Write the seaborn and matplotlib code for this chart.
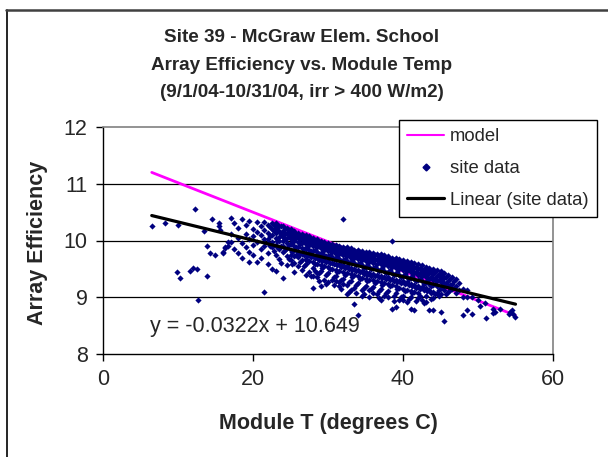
import matplotlib
matplotlib.use("Agg")
import matplotlib.pyplot as plt
import seaborn as sns
import pandas as pd
from matplotlib.lines import Line2D

sns.set_style("white")
plt.rcParams['font.family'] = ['Liberation Sans', 'DejaVu Sans']

# ---- data ----
title_lines = ["Site 39 - McGraw Elem. School",
               "Array Efficiency vs. Module Temp",
               "(9/1/04-10/31/04, irr > 400 W/m2)"]
x_label = "Module T (degrees C)"
y_label = "Array Efficiency"
x_ticks = [0, 20, 40, 60]
y_ticks = [8, 9, 10, 11, 12]
equation = "y = -0.0322x + 10.649"
legend_labels = ["model", "site data", "Linear (site data)"]

# model line endpoints (T, efficiency)
model_T = [6.5, 55.0]
model_E = [11.20, 8.68]
# linear trend of site data
fit_slope = -0.0322
fit_intercept = 10.649
fit_T = [6.5, 55.0]

# site data, grouped by module temperature column (main columns)
col_T = [6.5, 8.3, 9.8, 10.0, 10.3, 11.6, 12.0, 12.3, 12.5, 12.7, 13.4, 13.8,
         14.3, 14.5, 14.9, 15.4, 15.6, 16.0, 16.3, 16.7,
         17.0, 17.5, 18.0, 18.5, 19.0, 19.5, 20.0, 20.5, 21.0, 21.5, 22.0, 22.5,
         23.0, 23.5, 24.0, 24.5, 25.0, 25.5, 26.0, 26.5, 27.0, 27.5, 28.0, 28.5,
         29.0, 29.5, 30.0, 30.5, 31.0, 31.5, 32.0, 32.5, 33.0, 33.5, 34.0, 34.5,
         35.0, 35.5, 36.0, 36.5, 37.0, 37.5, 38.0, 38.5, 39.0, 39.5, 40.0, 40.5,
         41.0, 41.5, 42.0, 42.5, 43.0, 43.5, 44.0, 44.5, 45.0, 45.5, 46.0, 46.5,
         47.0, 48.0, 48.5, 49.2, 50.0, 50.3, 50.9, 51.1, 52.0, 52.3, 52.9, 54.1,
         54.3, 54.5, 54.7, 54.9]
col_E = [
    [10.26], [10.31], [9.44], [10.28], [9.34], [9.46], [9.52], [10.56], [9.49],
    [8.96], [10.16], [9.91, 9.38], [9.78], [10.38], [9.74], [10.31, 10.25],
    [10.18], [9.78, 9.79], [9.87, 9.88], [9.91, 9.97],
    [10.40, 10.12, 9.97], [10.30, 9.85], [10.22, 10.05, 9.78],
    [10.38, 9.95, 9.70], [10.28, 10.12, 9.88], [10.35, 10.02, 9.80, 9.62],
    [10.20, 10.08, 9.92, 9.75], [10.32, 10.15, 9.98, 9.62],
    [10.25, 10.10, 9.85, 9.70], [10.32, 10.18, 10.02, 9.90, 9.09],
    [10.28, 10.14, 10.03, 9.95, 9.78, 9.58],
    [10.30, 10.21, 10.09, 9.97, 9.88, 9.50],
    [10.31, 10.22, 10.13, 10.04, 9.92, 9.75, 9.47],
    [10.26, 10.17, 10.06, 9.99, 9.85, 9.68],
    [10.25, 10.16, 10.07, 9.99, 9.90, 9.80, 9.34],
    [10.22, 10.14, 10.05, 9.96, 9.87, 9.72, 9.56],
    [10.20, 10.11, 10.03, 9.94, 9.84, 9.75, 9.65],
    [10.17, 10.09, 10.00, 9.91, 9.83, 9.73, 9.60, 9.45],
    [10.14, 10.06, 9.98, 9.89, 9.80, 9.71, 9.55],
    [10.12, 10.04, 9.96, 9.87, 9.77, 9.66, 9.48],
    [10.10, 10.02, 9.94, 9.86, 9.78, 9.68, 9.58, 9.40],
    [10.08, 10.00, 9.92, 9.83, 9.74, 9.64, 9.45],
    [10.05, 9.98, 9.90, 9.82, 9.73, 9.62, 9.51, 9.38, 9.17],
    [10.02, 9.96, 9.88, 9.79, 9.70, 9.59, 9.42, 9.35],
    [10.00, 9.93, 9.86, 9.77, 9.68, 9.57, 9.46, 9.20],
    [9.97, 9.91, 9.83, 9.75, 9.66, 9.55, 9.30],
    [9.95, 9.89, 9.81, 9.73, 9.64, 9.53, 9.42, 9.27],
    [9.93, 9.87, 9.79, 9.71, 9.61, 9.50, 9.31],
    [9.92, 9.85, 9.77, 9.69, 9.59, 9.48, 9.37, 9.29],
    [9.90, 9.83, 9.76, 9.67, 9.58, 9.46, 9.26, 9.20],
    [10.38, 9.89, 9.82, 9.74, 9.66, 9.56, 9.45, 9.33, 9.23],
    [9.88, 9.80, 9.72, 9.63, 9.55, 9.43, 9.21, 9.05],
    [9.86, 9.79, 9.70, 9.62, 9.52, 9.41, 9.29, 9.12],
    [9.84, 9.77, 9.69, 9.60, 9.50, 9.39, 9.16, 8.88],
    [9.83, 9.75, 9.67, 9.58, 9.48, 9.37, 9.25, 8.68],
    [9.81, 9.74, 9.65, 9.56, 9.46, 9.34, 9.13, 9.02],
    [9.80, 9.72, 9.63, 9.54, 9.44, 9.33, 9.20],
    [9.79, 9.71, 9.62, 9.53, 9.42, 9.31, 9.12, 9.00],
    [9.78, 9.70, 9.60, 9.51, 9.41, 9.30, 9.18, 9.08],
    [9.77, 9.68, 9.59, 9.50, 9.40, 9.28, 9.05],
    [9.76, 9.67, 9.58, 9.48, 9.38, 9.27, 9.15, 8.95],
    [9.74, 9.66, 9.56, 9.47, 9.36, 9.25, 9.02],
    [9.72, 9.64, 9.55, 9.45, 9.35, 9.23, 9.11, 9.00],
    [9.99, 9.70, 9.62, 9.53, 9.43, 9.33, 9.21, 8.80],
    [9.69, 9.61, 9.51, 9.41, 9.31, 9.19, 9.07, 8.83],
    [9.67, 9.59, 9.49, 9.40, 9.29, 9.17, 8.96],
    [9.66, 9.57, 9.48, 9.38, 9.28, 9.15, 9.03, 8.95],
    [9.64, 9.55, 9.46, 9.36, 9.26, 9.13, 8.92],
    [9.62, 9.53, 9.44, 9.34, 9.24, 9.11, 9.00, 8.80],
    [9.60, 9.51, 9.42, 9.32, 9.22, 9.09, 8.77],
    [9.58, 9.49, 9.40, 9.30, 9.20, 9.07, 8.98],
    [9.56, 9.47, 9.38, 9.28, 9.18, 8.96],
    [9.54, 9.45, 9.36, 9.26, 9.16, 9.03, 8.92],
    [9.52, 9.43, 9.33, 9.24, 9.13, 8.77],
    [9.50, 9.41, 9.31, 9.21, 9.10, 8.99, 8.77],
    [9.48, 9.38, 9.29, 9.19, 9.08],
    [9.46, 9.36, 9.26, 9.16, 9.06, 8.74],
    [9.43, 9.34, 9.23, 9.13, 8.58],
    [9.40, 9.29, 9.20, 9.10],
    [9.36, 9.24, 9.14],
    [9.32, 9.20, 9.08],
    [9.15, 9.00, 8.68],
    [9.12, 9.00, 8.78],
    [9.00, 8.70],
    [8.95], [8.84], [8.89], [8.64], [8.80, 8.73], [8.74], [8.80], [8.71],
    [8.74], [8.77], [8.71], [8.65],
]

# site data, in-between columns of the dense band
col2_T = [22.25, 22.75, 23.25, 23.75, 24.25, 24.75, 25.25, 25.75, 26.25, 26.75,
          27.25, 27.75, 28.25, 28.75, 29.25, 29.75, 30.25, 30.75, 31.25, 31.75,
          32.25, 32.75, 33.25, 33.75, 34.25, 34.75, 35.25, 35.75, 36.25, 36.75,
          37.25, 37.75, 38.25, 38.75, 39.25, 39.75, 40.25, 40.75, 41.25, 41.75,
          42.25, 42.75, 43.25, 43.75, 44.25, 44.75, 45.25, 45.75, 46.25, 46.75,
          47.5]
col2_E = [
    [10.24, 10.08, 9.91],
    [10.27, 10.16, 9.82],
    [10.28, 10.18, 10.00, 9.88],
    [10.25, 10.12, 9.90, 9.60],
    [10.20, 10.11, 10.03, 9.84],
    [10.18, 10.10, 9.92, 9.68],
    [10.15, 10.07, 9.98, 9.80, 9.58],
    [10.12, 10.04, 9.88, 9.74],
    [10.10, 10.02, 9.93, 9.76, 9.62],
    [10.08, 10.00, 9.85, 9.74, 9.55],
    [10.05, 9.97, 9.89, 9.72, 9.63],
    [10.03, 9.95, 9.81, 9.71, 9.38],
    [10.00, 9.92, 9.84, 9.69, 9.58, 9.46],
    [9.98, 9.90, 9.77, 9.66, 9.43, 9.28],
    [9.96, 9.88, 9.79, 9.64, 9.52],
    [9.94, 9.86, 9.73, 9.62, 9.39, 9.24],
    [9.92, 9.84, 9.75, 9.60, 9.49],
    [9.90, 9.82, 9.68, 9.58, 9.35, 9.22],
    [9.88, 9.80, 9.71, 9.56, 9.44],
    [9.86, 9.78, 9.64, 9.54, 9.31, 9.15],
    [9.85, 9.77, 9.68, 9.52, 9.40],
    [9.84, 9.75, 9.60, 9.50, 9.26, 9.10],
    [9.82, 9.74, 9.64, 9.48, 9.36],
    [9.80, 9.72, 9.56, 9.46, 9.21, 9.07],
    [9.79, 9.70, 9.61, 9.44, 9.32],
    [9.77, 9.69, 9.52, 9.41, 9.17, 9.05],
    [9.76, 9.67, 9.57, 9.40, 9.28],
    [9.75, 9.66, 9.49, 9.38, 9.14],
    [9.74, 9.65, 9.54, 9.37, 9.25],
    [9.72, 9.63, 9.46, 9.35, 9.11, 8.99],
    [9.71, 9.62, 9.51, 9.34, 9.22],
    [9.69, 9.60, 9.43, 9.32, 9.07],
    [9.68, 9.58, 9.48, 9.31, 9.19],
    [9.66, 9.56, 9.40, 9.29, 9.03, 8.93],
    [9.64, 9.55, 9.45, 9.27, 9.15],
    [9.62, 9.53, 9.36, 9.25, 9.00],
    [9.60, 9.51, 9.41, 9.23, 9.11],
    [9.58, 9.49, 9.32, 9.21, 8.97],
    [9.56, 9.47, 9.37, 9.19, 9.07],
    [9.54, 9.45, 9.28, 9.17, 8.94],
    [9.52, 9.43, 9.33, 9.15, 9.03],
    [9.50, 9.41, 9.24, 9.13, 8.90],
    [9.48, 9.39, 9.29, 9.11],
    [9.46, 9.36, 9.19, 9.08, 8.97],
    [9.44, 9.34, 9.24, 9.06],
    [9.41, 9.31, 9.13, 9.03],
    [9.38, 9.29, 9.19],
    [9.35, 9.25, 9.06],
    [9.32, 9.21, 9.12],
    [9.28, 9.16],
    [9.25, 9.12],
]

rows = [(t, e) for t, es in zip(col_T, col_E) for e in es]
rows += [(t, e) for t, es in zip(col2_T, col2_E) for e in es]
site = pd.DataFrame(rows, columns=["T", "E"])
model = pd.DataFrame({"T": model_T, "E": model_E})
fit = pd.DataFrame({"T": fit_T, "E": [fit_slope * t + fit_intercept for t in fit_T]})

W, H = 608, 457
fig = plt.figure(figsize=(W / 100, H / 100), dpi=100)
ax = fig.add_axes([103 / W, 1 - 354 / H, (553 - 103) / W, (354 - 127) / H])

navy = "#000080"
magenta = "#FF00FF"

sns.lineplot(data=model, x="T", y="E", ax=ax, color=magenta, lw=2.0, zorder=2)
sns.scatterplot(data=site, x="T", y="E", ax=ax, color=navy, marker="D",
                s=10, linewidth=0, zorder=3)
sns.lineplot(data=fit, x="T", y="E", ax=ax, color="black", lw=2.3, zorder=4)

ax.set_xlim(0, 60)
ax.set_ylim(8, 12)
ax.set_xticks(x_ticks)
ax.set_yticks(y_ticks)
ax.set_xticklabels([str(v) for v in x_ticks], fontsize=15.5)
ax.set_yticklabels([str(v) for v in y_ticks], fontsize=15.5)
ax.tick_params(axis="both", direction="out", length=5, width=1, color="black",
               bottom=True, left=True)
ax.tick_params(axis="x", pad=6)
ax.tick_params(axis="y", pad=6)
for y in y_ticks[1:-1]:
    ax.axhline(y, color="black", lw=0.9, zorder=1)
ax.set_xlabel("")
ax.set_ylabel("")
for side in ["left", "bottom"]:
    ax.spines[side].set_color("black")
    ax.spines[side].set_linewidth(1.0)
for side in ["top", "right"]:
    ax.spines[side].set_color("#808080")
    ax.spines[side].set_linewidth(1.2)
ax.grid(False)

ax.text(6.3, 8.48, equation, fontsize=15.5, ha="left", va="center")

# titles and axis labels
for i, line in enumerate(title_lines):
    fig.text(302 / W, 1 - (38 + 27 * i) / H, line, ha="center", va="center",
             fontsize=13.6, fontweight="bold")
fig.text(328 / W, 1 - 424 / H, x_label, ha="center", va="center",
         fontsize=15.5, fontweight="bold")
fig.text(38 / W, 1 - 243 / H, y_label, ha="center", va="center",
         fontsize=15.5, fontweight="bold", rotation=90)

# legend
handles = [Line2D([0], [0], color=magenta, lw=1.5),
           Line2D([0], [0], color=navy, marker="D", markersize=3.5, lw=0),
           Line2D([0], [0], color="black", lw=2.3)]
leg = fig.legend(handles, legend_labels,
                 loc="upper left", bbox_to_anchor=(399 / W, 1 - 120 / H),
                 fontsize=13.3, frameon=True, fancybox=False, edgecolor="black",
                 framealpha=1, borderpad=0.45, labelspacing=0.8,
                 handlelength=2.0, handletextpad=0.3, borderaxespad=0)
leg.get_frame().set_linewidth(1.0)

# outer chart frame (left and top edges visible)
fig.add_artist(Line2D([6.5 / W, 6.5 / W], [0, 1 - 10 / H], color="black",
                      lw=1.2, transform=fig.transFigure))
fig.add_artist(Line2D([6 / W, 1], [1 - 10 / H, 1 - 10 / H], color="#404040",
                      lw=1.8, transform=fig.transFigure))

fig.savefig("out.png", dpi=100)
